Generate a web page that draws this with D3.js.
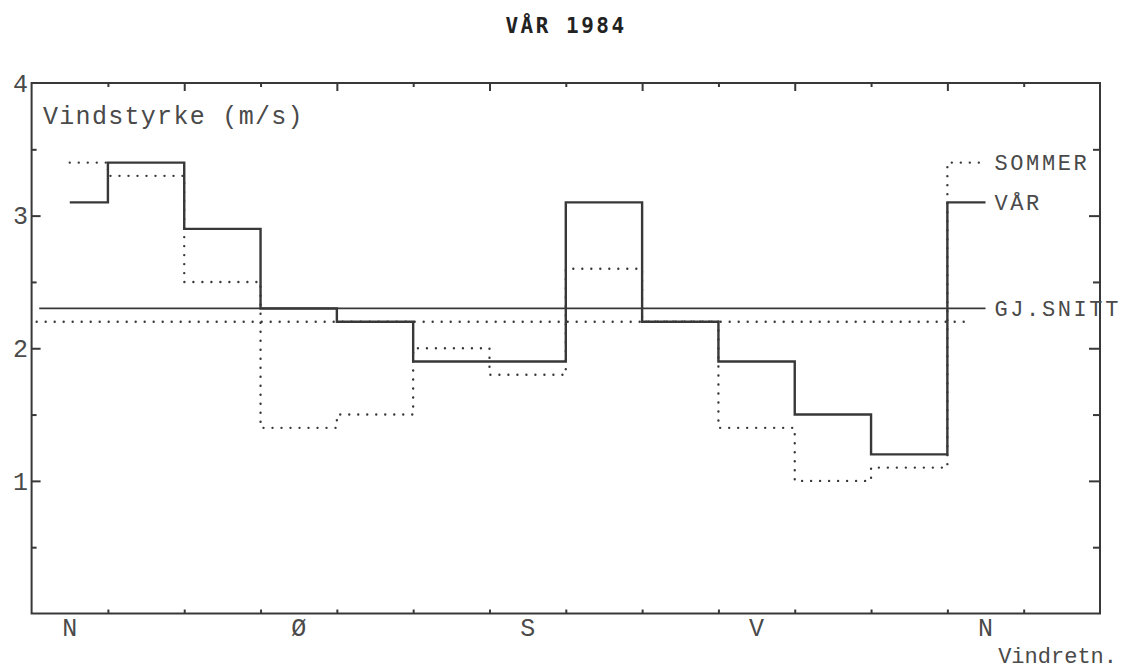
<!DOCTYPE html>
<html>
<head>
    <title>vindstyrke - vaar 1984</title>
    <script src="https://d3js.org/d3.v7.min.js"></script>
    <style>
        body { margin: 0; background: #fff; }
        text { font-family: "Liberation Mono", "Courier New", monospace; fill: #4a4a4a; }
        .title { font-family: "DejaVu Sans Mono", monospace; font-weight: bold; fill: #222; }
    </style>
</head>
<body>
    <svg id="chart"></svg>

    <script>

        // data
        var sectors = [0, 30, 60, 90, 120, 150, 180, 210, 240, 270, 300, 330]; // sector centre (deg)
        var vaar   = [3.1, 3.4, 2.9, 2.3, 2.2, 1.9, 1.9, 3.1, 2.2, 1.9, 1.5, 1.2];
        var sommer = [3.4, 3.3, 2.5, 1.4, 1.5, 2.0, 1.8, 2.6, 2.2, 1.4, 1.0, 1.1];
        var snittVaar = 2.3;
        var snittSommer = 2.2;

        var dirLabels = ["N", "Ø", "S", "V", "N"];
        var dirDegrees = [0, 90, 180, 270, 360];
        var yTickLabels = [1, 2, 3, 4];

        var width = 1123;
        var height = 672;

        var svg = d3.select("#chart")
                    .attr("width", width)
                    .attr("height", height);

        // frame goes from -15 deg to ~405 deg
        var x = d3.scaleLinear()
            .domain([-15, 405])
            .range([31.6, 1100]);

        var y = d3.scaleLinear()
            .domain([0, 4])
            .range([613.5, 83]);

        var ink = "#383838";

        // frame
        svg.append("rect")
            .attr("x", x(-15))
            .attr("y", y(4))
            .attr("width", x(405) - x(-15))
            .attr("height", y(0) - y(4))
            .attr("fill", "none")
            .attr("stroke", ink)
            .attr("stroke-width", 2);

        function tidy(g) {
            g.select(".domain").remove();
            g.selectAll(".tick line").attr("stroke", ink).attr("stroke-width", 2);
        }

        // sector boundaries for ticks
        var bounds = d3.range(15, 376, 30);

        svg.append("g")
            .attr("transform", "translate(0," + y(0) + ")")
            .call(d3.axisBottom(x).tickValues(bounds).tickSize(-4).tickFormat(""))
            .call(tidy);

        svg.append("g")
            .attr("transform", "translate(0," + y(4) + ")")
            .call(d3.axisTop(x).tickValues(bounds.filter(function(d, i) { return i % 2 == 0; })).tickSize(-4).tickFormat(""))
            .call(tidy);

        svg.append("g")
            .attr("transform", "translate(0," + y(4) + ")")
            .call(d3.axisTop(x).tickValues(bounds.filter(function(d, i) { return i % 2 == 1; })).tickSize(-8).tickFormat(""))
            .call(tidy);

        // y ticks, left and right side
        var major = [1, 2, 3];
        var minor = [0.5, 1.5, 2.5, 3.5];

        svg.append("g")
            .attr("transform", "translate(" + x(-15) + ",0)")
            .call(d3.axisLeft(y).tickValues(major).tickSize(-9).tickFormat(""))
            .call(tidy);
        svg.append("g")
            .attr("transform", "translate(" + x(-15) + ",0)")
            .call(d3.axisLeft(y).tickValues(minor).tickSize(-5).tickFormat(""))
            .call(tidy);
        svg.append("g")
            .attr("transform", "translate(" + x(405) + ",0)")
            .call(d3.axisRight(y).tickValues(major).tickSize(-11).tickFormat(""))
            .call(tidy);
        svg.append("g")
            .attr("transform", "translate(" + x(405) + ",0)")
            .call(d3.axisRight(y).tickValues(minor).tickSize(-7).tickFormat(""))
            .call(tidy);

        // y tick labels
        svg.selectAll(".ylab")
            .data(yTickLabels)
            .enter().append("text")
            .attr("class", "ylab")
            .attr("x", 28)
            .attr("y", function(d) { return y(d); })
            .attr("dy", "0.35em")
            .attr("text-anchor", "end")
            .style("font-size", "25px")
            .text(function(d) { return d; });

        // direction labels
        svg.selectAll(".xlab")
            .data(dirLabels)
            .enter().append("text")
            .attr("class", "xlab")
            .attr("x", function(d, i) { return x(dirDegrees[i]); })
            .attr("y", 636)
            .attr("text-anchor", "middle")
            .style("font-size", "25px")
            .text(function(d) { return d; });

        svg.append("text")
            .attr("x", 1117)
            .attr("y", 663)
            .attr("text-anchor", "end")
            .style("font-size", "22px")
            .text("Vindretn.");

        svg.append("text")
            .attr("x", 43)
            .attr("y", 123.5)
            .style("font-size", "25px")
            .style("letter-spacing", "1.3px")
            .text("Vindstyrke (m/s)");

        svg.append("text")
            .attr("class", "title")
            .attr("x", 566)
            .attr("y", 33)
            .attr("text-anchor", "middle")
            .style("font-size", "21px")
            .style("letter-spacing", "2.5px")
            .text("VÅR 1984");

        // step lines: N sector is split at 0 and 360 deg
        function stepPoints(vals) {
            var pts = [[0, vals[0]]];
            for (var i = 1; i < sectors.length; i++) {
                pts.push([sectors[i] - 15, vals[i]]);
            }
            pts.push([345, vals[0]]);
            pts.push([360, vals[0]]);
            return pts;
        }

        var line = d3.line()
            .x(function(d) { return x(d[0]); })
            .y(function(d) { return y(d[1]); })
            .curve(d3.curveStepAfter);

        // averages
        svg.append("path")
            .attr("d", line([[-13, snittSommer], [353, snittSommer]]))
            .attr("fill", "none")
            .attr("stroke", ink)
            .attr("stroke-width", 2.4)
            .attr("stroke-linecap", "round")
            .attr("stroke-dasharray", "0 9");

        svg.append("path")
            .attr("d", line([[-12, snittVaar], [360, snittVaar]]))
            .attr("fill", "none")
            .attr("stroke", ink)
            .attr("stroke-width", 1.8);

        svg.append("path")
            .attr("d", line(stepPoints(sommer)))
            .attr("fill", "none")
            .attr("stroke", ink)
            .attr("stroke-width", 2.4)
            .attr("stroke-linecap", "round")
            .attr("stroke-dasharray", "0 9");

        svg.append("path")
            .attr("d", line(stepPoints(vaar)))
            .attr("fill", "none")
            .attr("stroke", ink)
            .attr("stroke-width", 2.4);

        // labels at the line ends
        var endLabels = [
            {name: "SOMMER", v: sommer[0]},
            {name: "VÅR", v: vaar[0]},
            {name: "GJ.SNITT", v: snittVaar}
        ];

        svg.selectAll(".endlab")
            .data(endLabels)
            .enter().append("text")
            .attr("class", "endlab")
            .attr("x", x(360) + 9)
            .attr("y", function(d) { return y(d.v); })
            .attr("dy", "0.35em")
            .style("font-size", "22px")
            .style("letter-spacing", "2.6px")
            .text(function(d) { return d.name; });

    </script>
</body>
</html>
